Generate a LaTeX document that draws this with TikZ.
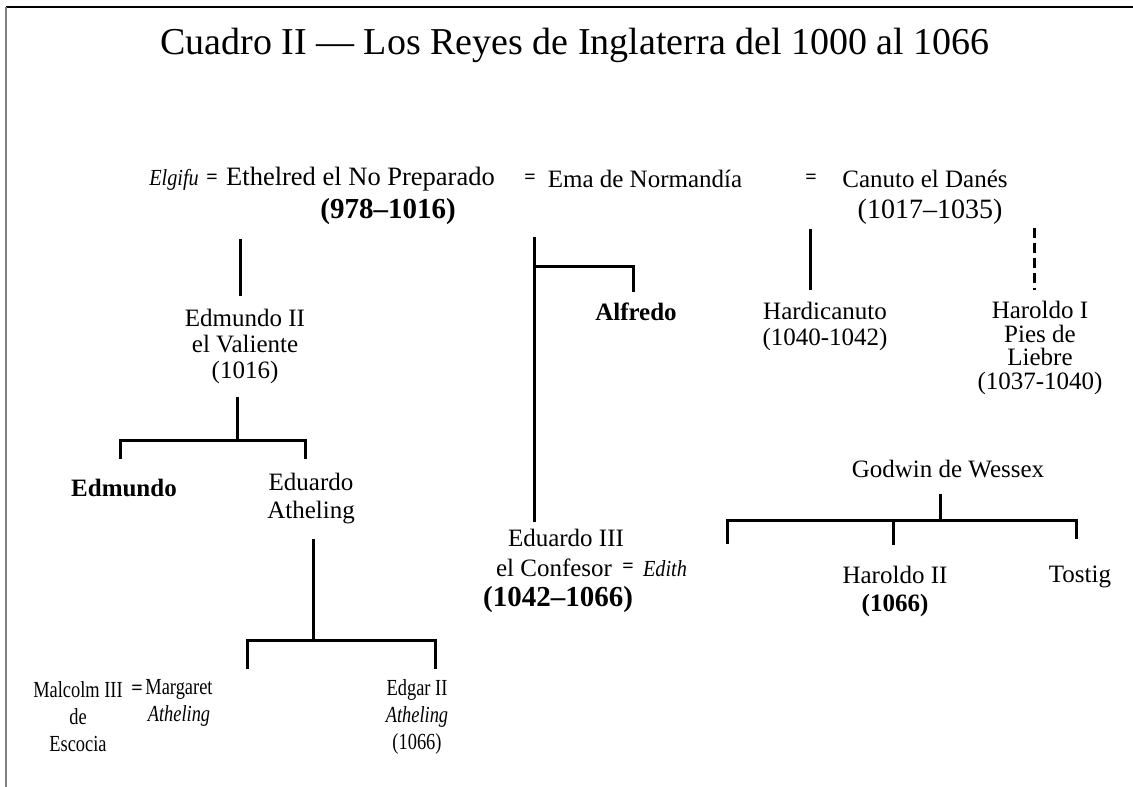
\documentclass[tikz,border=0pt]{standalone}
\usepackage{fontspec}
\setmainfont{Liberation Serif}
\newfontfamily\condfont[FakeStretch=0.8]{Liberation Serif}
\newfontfamily\icondfont[FakeStretch=0.88]{Liberation Serif}
\begin{document}
\begin{tikzpicture}[x=1pt,y=-1pt,
  txt/.style={inner sep=0pt,align=center,font=\fontsize{25}{27}\selectfont},
  stxt/.style={inner sep=0pt,align=center,font=\condfont\fontsize{23}{27}\selectfont},
  btxt/.style={inner sep=0pt,align=center,font=\fontsize{25}{27}\selectfont\bfseries},
  itxt/.style={inner sep=0pt,align=center,font=\icondfont\fontsize{23}{27}\selectfont\itshape},
  yr/.style={inner sep=0pt,align=center,font=\fontsize{29}{30}\selectfont\bfseries},
  yrl/.style={inner sep=0pt,align=center,font=\fontsize{28}{30}\selectfont},
  eq/.style={inner sep=0pt,font=\fontsize{20}{24}\selectfont\bfseries},
  bar/.style={line width=3pt,line cap=rect},
  dashbar/.style={line width=3pt,dash pattern=on 10pt off 5pt}]
\useasboundingbox (0,0) rectangle (1133,787);
% frame
\draw[line width=1.5pt] (6,7) -- (1133,7);
\draw[line width=2pt,gray] (6,7) -- (6,787);
% title
\node[inner sep=0pt,font=\fontsize{38}{40}\selectfont] (title) at (575,45) {Cuadro II — Los Reyes de Inglaterra del 1000 al 1066};
% row 1
\node[itxt] (elgifu) at (174,180) {Elgifu};
\node[eq] (eq1) at (212,179) {=};
\node[txt,font=\fontsize{26.5}{27}\selectfont,anchor=west] (ethelred) at (226,179) {Ethelred el No Preparado};
\node[eq] (eq2) at (530,179) {=};
\node[txt] (ema) at (645,179) {Ema de Normandía};
\node[eq] (eq3) at (811,179) {=};
\node[txt] (canuto) at (925,179) {Canuto el Danés};
\node[yr] (y978) at (388,212) {(978–1016)};
\node[yrl] (y1017) at (930,212) {(1017–1035)};
% Ethelred -> Edmundo II
\node[txt,font=\fontsize{25}{26}\selectfont] (edm2) at (245,346) {Edmundo II\\el Valiente\\(1016)};
\coordinate (e1a) at (240,240);
\coordinate (e1b) at (240,294);
\draw[bar] (e1a) -- (e1b);
% Ema line
\node[btxt] (alfredo) at (636,312) {Alfredo};
\node[txt] (edu3) at (566,538) {Eduardo III};
\coordinate (m1a) at (534,238);
\coordinate (m1b) at (534,520);
\coordinate (m1c) at (534,266);
\coordinate (m1d) at (633,266);
\coordinate (m1e) at (633,290);
\draw[bar] (m1a) -- (m1b);
\draw[bar] (m1c) -- (m1d) -- (m1e);
% Canuto children
\node[txt,font=\fontsize{25}{26}\selectfont] (hardi) at (825,326) {Hardicanuto\\(1040-1042)};
\coordinate (h1a) at (810,230);
\coordinate (h1b) at (810,288);
\draw[bar] (h1a) -- (h1b);
\node[txt,font=\fontsize{25}{23.5}\selectfont] (harold1) at (1040,348) {Haroldo I\\Pies de\\Liebre\\(1037-1040)};
\coordinate (d1a) at (1034,228);
\coordinate (d1b) at (1034,290);
\draw[dashbar] (d1a) -- (d1b);
% Edmundo II children
\coordinate (s1a) at (237,398);
\coordinate (s1b) at (237,440);
\coordinate (s1l) at (120,440);
\coordinate (s1r) at (305,440);
\coordinate (s1ld) at (120,457);
\coordinate (s1rd) at (305,457);
\draw[bar] (s1a) -- (s1b);
\draw[bar] (s1ld) -- (s1l) -- (s1r) -- (s1rd);
\node[btxt] (edmundo) at (124,488) {Edmundo};
\node[txt,font=\fontsize{25}{28}\selectfont] (eduath) at (311,499) {Eduardo\\Atheling};
% Eduardo Atheling children
\coordinate (t1a) at (313,540);
\coordinate (t1b) at (313,640);
\coordinate (t1l) at (247,640);
\coordinate (t1r) at (435,640);
\coordinate (t1ld) at (247,667);
\coordinate (t1rd) at (435,667);
\draw[bar] (t1a) -- (t1b);
\draw[bar] (t1ld) -- (t1l) -- (t1r) -- (t1rd);
\node[stxt] (malcolm) at (78,717) {Malcolm III\\de\\Escocia};
\node[eq] (eq4) at (137,690) {=};
\node[stxt] (margaret) at (179,703) {Margaret\\\itshape Atheling};
\node[stxt] (edgar) at (417,717) {Edgar II\\\itshape Atheling\\(1066)};
% Eduardo III
\node[txt] (confesor) at (554,568) {el Confesor};
\node[eq] (eq5) at (628,568) {=};
\node[itxt] (edith) at (665,569) {Edith};
\node[yr] (y1042) at (558,600) {(1042–1066)};
% Godwin
\node[txt] (godwin) at (948,469) {Godwin de Wessex};
\coordinate (g1a) at (940,495);
\coordinate (g1b) at (940,520);
\coordinate (g1l) at (727,520);
\coordinate (g1r) at (1076,520);
\coordinate (g1ld) at (727,542);
\coordinate (g1m) at (893,520);
\coordinate (g1md) at (893,543);
\coordinate (g1rd) at (1076,537);
\draw[bar] (g1a) -- (g1b);
\draw[bar] (g1ld) -- (g1l) -- (g1r) -- (g1rd);
\draw[bar] (g1m) -- (g1md);
\node[txt] (harold2) at (895,575) {Haroldo II};
\node[yr,font=\fontsize{25}{28}\selectfont\bfseries] (y1066) at (895,605) {(1066)};
\node[txt] (tostig) at (1080,577) {Tostig};
\end{tikzpicture}
\end{document}
